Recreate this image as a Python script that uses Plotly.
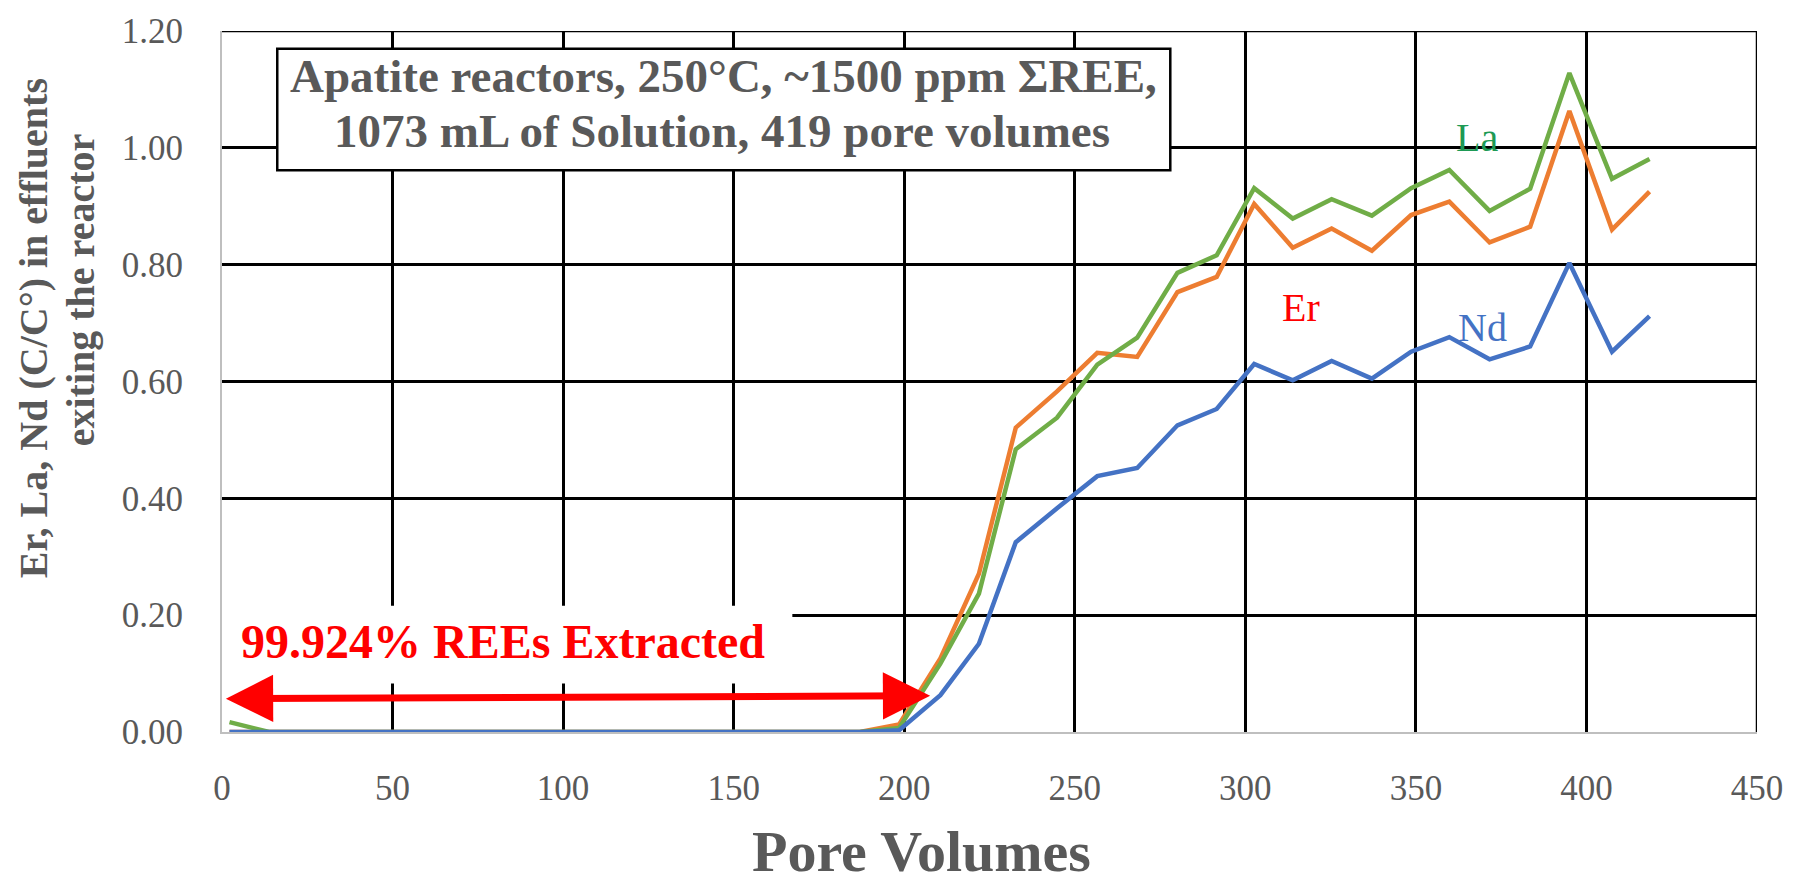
import plotly.graph_objects as go

# Pore volumes at each effluent sample
pore_volumes = [2.2, 13.8, 25.3, 36.9, 48.4, 60.0, 71.5, 83.1, 94.6, 106.2,
                117.7, 129.3, 140.8, 152.4, 163.9, 175.5, 187.0, 198.5,
                210.6, 221.9, 232.7, 244.8, 256.6, 268.3, 280.1, 291.6,
                302.6, 313.9, 325.3, 337.1, 348.6, 359.8, 371.6, 383.5,
                395.0, 407.5, 418.5]

# Normalised effluent concentrations C/C°
er_vals = [0.0] * 17 + [0.013, 0.126, 0.271, 0.521, 0.583, 0.649, 0.642, 0.753,
                        0.779, 0.904, 0.829, 0.862, 0.824, 0.885, 0.908, 0.838,
                        0.865, 1.063, 0.860, 0.925]
la_vals = [0.017] + [0.0] * 16 + [0.007, 0.117, 0.237, 0.484, 0.538, 0.629, 0.675,
                                  0.786, 0.816, 0.931, 0.879, 0.912, 0.884, 0.931,
                                  0.962, 0.892, 0.930, 1.128, 0.947, 0.981]
nd_vals = [0.0] * 17 + [0.003, 0.063, 0.151, 0.325, 0.383, 0.438, 0.452, 0.525,
                        0.553, 0.630, 0.602, 0.635, 0.605, 0.651, 0.676, 0.638,
                        0.660, 0.803, 0.651, 0.712]

x_ticks = [0, 50, 100, 150, 200, 250, 300, 350, 400, 450]
y_ticks = [0.0, 0.2, 0.4, 0.6, 0.8, 1.0, 1.2]
y_tick_text = ["0.00", "0.20", "0.40", "0.60", "0.80", "1.00", "1.20"]
X_MAX, Y_MAX = 450, 1.2

W, H = 1796, 893
L, R, T, B = 222, 39, 29, 161
PW, PH = W - L - R, H - T - B


def px_x(px):
    return (px - L) / PW


def px_y(py):
    return (T + PH - py) / PH


GREY = "#595959"
SERIF = "Liberation Serif, Times New Roman, serif"
LW = 4.5

fig = go.Figure()
fig.add_trace(go.Scatter(x=pore_volumes, y=er_vals, mode="lines", name="Er",
                         line=dict(color="#ED7D31", width=LW), cliponaxis=False))
fig.add_trace(go.Scatter(x=pore_volumes, y=la_vals, mode="lines", name="La",
                         line=dict(color="#70AD47", width=LW), cliponaxis=False))
fig.add_trace(go.Scatter(x=pore_volumes, y=nd_vals, mode="lines", name="Nd",
                         line=dict(color="#4472C4", width=LW), cliponaxis=False))

# black frame lines along the top and right edges of the grid
fig.add_shape(type="line", xref="x", yref="y", x0=0, x1=X_MAX, y0=Y_MAX, y1=Y_MAX,
              line=dict(color="black", width=2.5), layer="between")
fig.add_shape(type="line", xref="x", yref="y", x0=X_MAX, x1=X_MAX, y0=0, y1=Y_MAX,
              line=dict(color="black", width=2.5), layer="between")

# white panels behind the two text blocks
fig.add_shape(type="rect", xref="x", yref="y", x0=-1, x1=167.2, y0=0.083, y1=0.216,
              fillcolor="white", line=dict(width=0), layer="between")
fig.add_shape(type="rect", xref="x", yref="y", x0=16.2, x1=278.0, y0=0.9616, y1=1.1698,
              fillcolor="white", line=dict(color="black", width=2.5), layer="above")

ann = []
box_font = dict(family=SERIF, size=47, color=GREY)
ann.append(dict(xref="paper", yref="paper", x=px_x(723), y=px_y(74), xanchor="center",
                yanchor="middle", showarrow=False,
                text="<b>Apatite reactors, 250°C, ~1500 ppm ΣREE,</b>", font=box_font))
ann.append(dict(xref="paper", yref="paper", x=px_x(722), y=px_y(129), xanchor="center",
                yanchor="middle", showarrow=False,
                text="<b>1073 mL of Solution, 419 pore volumes</b>", font=box_font))

ann.append(dict(xref="paper", yref="paper", x=px_x(503), y=px_y(641), xanchor="center",
                yanchor="middle", showarrow=False,
                text="<b>99.924% REEs Extracted</b>",
                font=dict(family=SERIF, size=48, color="#FF0000")))

# extraction range arrow
ann.append(dict(xref="x", yref="y", axref="x", ayref="y", x=207.6, y=0.062, ax=0.7, ay=0.057,
                text="", showarrow=True, arrowside="end+start", arrowhead=2, arrowsize=1.35,
                arrowwidth=7, arrowcolor="#FF0000", standoff=0, startstandoff=0))

# series labels
ann.append(dict(xref="x", yref="y", x=367.9, y=1.018, text="La", showarrow=False,
                font=dict(family=SERIF, size=40, color="#1E9A55")))
ann.append(dict(xref="x", yref="y", x=316.4, y=0.726, text="Er", showarrow=False,
                font=dict(family=SERIF, size=40, color="#FF0000")))
ann.append(dict(xref="x", yref="y", x=369.4, y=0.692, text="Nd", showarrow=False,
                font=dict(family=SERIF, size=40, color="#4472C4")))

# axis titles
ann.append(dict(xref="paper", yref="paper", x=px_x(921), y=px_y(852), xanchor="center",
                yanchor="middle", showarrow=False, text="<b>Pore Volumes</b>",
                font=dict(family=SERIF, size=58, color=GREY)))
ann.append(dict(xref="paper", yref="paper", x=px_x(33), y=px_y(327), xanchor="center",
                yanchor="middle", showarrow=False, textangle=-90,
                text="<b>Er, La, Nd (C/C°) in effluents</b>",
                font=dict(family=SERIF, size=40, color=GREY)))
ann.append(dict(xref="paper", yref="paper", x=px_x(80), y=px_y(289), xanchor="center",
                yanchor="middle", showarrow=False, textangle=-90,
                text="<b>exiting the reactor</b>",
                font=dict(family=SERIF, size=40, color=GREY)))

fig.update_layout(
    width=W, height=H,
    margin=dict(l=L, r=R, t=T, b=B, pad=0),
    paper_bgcolor="white", plot_bgcolor="white",
    showlegend=False,
    annotations=ann,
    xaxis=dict(range=[0, X_MAX], tickvals=x_ticks, showgrid=True, gridcolor="black",
               gridwidth=2.5, zeroline=False, showline=True, linecolor="#BFBFBF",
               linewidth=2, layer="below traces", ticks="outside", ticklen=0,
               ticklabelstandoff=24,
               tickfont=dict(family=SERIF, size=35, color=GREY)),
    yaxis=dict(range=[0, Y_MAX], tickvals=y_ticks, ticktext=y_tick_text, showgrid=True,
               gridcolor="black", gridwidth=2.5, zeroline=False, showline=True,
               linecolor="#BFBFBF", linewidth=2, layer="below traces", ticks="outside",
               ticklen=0, ticklabelstandoff=30,
               tickfont=dict(family=SERIF, size=35, color=GREY)),
)

fig.write_html("out.html")
